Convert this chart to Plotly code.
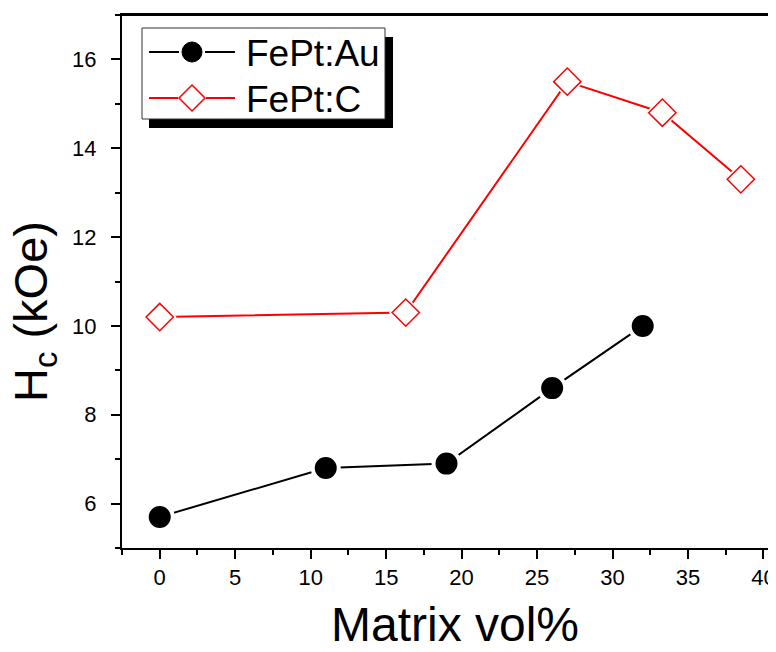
import plotly.graph_objects as go

# Data
au_x = [0, 11, 19, 26, 32]
au_y = [5.7, 6.8, 6.9, 8.6, 10.0]
c_x = [0, 16.3, 27, 33.3, 38.5]
c_y = [10.2, 10.3, 15.5, 14.8, 13.3]
series_names = ["FePt:Au", "FePt:C"]
x_title = "Matrix vol%"
y_title = "H<sub>c</sub> (kOe)"

FONT = "Liberation Sans, Arial, sans-serif"
# the page body adds an 8px offset; figure is sized to fill the rest of the window
OFF = 8
W, H = 776 - OFF, 652 - OFF
ML, MR, MT, MB = 122 - OFF, 0, 15 - OFF, 104
PW, PH = W - ML - MR, H - MT - MB


def px(xs):
    # screen pixel -> paper coordinate
    return (xs - OFF - ML) / PW


def py(ys):
    return (H - MB - (ys - OFF)) / PH


fig = go.Figure()

# FePt:Au - black filled circles with white gap ring
fig.add_trace(go.Scatter(
    x=au_x, y=au_y, mode="lines+markers", name=series_names[0],
    line=dict(color="black", width=2),
    marker=dict(symbol="circle", size=26, color="black",
                line=dict(color="white", width=4)),
))

# FePt:C - line, white underlay for gap, open red diamonds
fig.add_trace(go.Scatter(
    x=c_x, y=c_y, mode="lines", name=series_names[1],
    line=dict(color="#FF0000", width=2),
))
fig.add_trace(go.Scatter(
    x=c_x, y=c_y, mode="markers", showlegend=False, hoverinfo="skip",
    marker=dict(symbol="diamond", size=26, color="white", line=dict(width=0)),
))
fig.add_trace(go.Scatter(
    x=c_x, y=c_y, mode="markers", showlegend=False, name=series_names[1],
    marker=dict(symbol="diamond", size=21, color="white",
                line=dict(color="#FF0000", width=1.5)),
))

# top frame line + custom legend (Origin style box with drop shadow)
shapes = [
    dict(type="line", xref="paper", yref="paper", layer="above",
         x0=0, x1=1, y0=1, y1=1, line=dict(color="black", width=2)),
    dict(type="rect", xref="paper", yref="paper", layer="above",
         x0=px(149), x1=px(393), y0=py(37), y1=py(128),
         fillcolor="black", line=dict(width=0)),
    dict(type="rect", xref="paper", yref="paper", layer="above",
         x0=px(142), x1=px(385), y0=py(28), y1=py(119),
         fillcolor="white", line=dict(color="#333333", width=1)),
    # row 1 : black line + filled circle
    dict(type="line", xref="paper", yref="paper", layer="above",
         x0=px(149), x1=px(179), y0=py(52), y1=py(52),
         line=dict(color="black", width=2)),
    dict(type="line", xref="paper", yref="paper", layer="above",
         x0=px(205), x1=px(235), y0=py(52), y1=py(52),
         line=dict(color="black", width=2)),
    dict(type="circle", xref="paper", yref="paper", layer="above",
         x0=px(182), x1=px(202), y0=py(42), y1=py(62),
         fillcolor="black", line=dict(color="black", width=1)),
    # row 2 : red line + open diamond
    dict(type="line", xref="paper", yref="paper", layer="above",
         x0=px(149), x1=px(178), y0=py(98), y1=py(98),
         line=dict(color="#FF0000", width=2)),
    dict(type="line", xref="paper", yref="paper", layer="above",
         x0=px(206), x1=px(235), y0=py(98), y1=py(98),
         line=dict(color="#FF0000", width=2)),
    dict(type="path", xref="paper", yref="paper", layer="above",
         path="M {a},{b} L {c},{d} L {a},{e} L {f},{d} Z".format(
             a=px(192), b=py(85), c=px(205), d=py(98), e=py(111), f=px(179)),
         fillcolor="white", line=dict(color="#FF0000", width=1.5)),
]

annotations = [
    dict(text=series_names[0], xref="paper", yref="paper", x=px(244), y=py(53),
         xanchor="left", yanchor="middle", showarrow=False,
         font=dict(size=37, family=FONT, color="black")),
    dict(text=series_names[1], xref="paper", yref="paper", x=px(244), y=py(99),
         xanchor="left", yanchor="middle", showarrow=False,
         font=dict(size=37, family=FONT, color="black")),
    # axis titles
    dict(text=x_title, xref="paper", yref="paper", x=px(455), y=py(624),
         xanchor="center", yanchor="middle", showarrow=False,
         font=dict(size=48, family=FONT, color="black")),
    dict(text=y_title, xref="paper", yref="paper", x=px(34), y=py(312),
         xanchor="center", yanchor="middle", showarrow=False, textangle=-90,
         font=dict(size=47, family=FONT, color="black")),
]

fig.update_layout(
    width=W, height=H,
    margin=dict(l=ML, r=MR, t=MT, b=MB, autoexpand=False),
    paper_bgcolor="white", plot_bgcolor="white",
    font=dict(family=FONT, color="black"),
    showlegend=False,
    shapes=shapes,
    annotations=annotations,
    xaxis=dict(
        range=[-2.5, 40.83], showgrid=False, zeroline=False, automargin=False,
        showline=True, linecolor="black", linewidth=2, mirror=True,
        ticks="outside", tickcolor="black", tickwidth=1.5, ticklen=9,
        dtick=5, tick0=0,
        minor=dict(ticks="outside", ticklen=5, tickcolor="black", tickwidth=1.5, dtick=2.5, tick0=0),
        tickfont=dict(size=22),
    ),
    yaxis=dict(
        range=[5, 17], showgrid=False, zeroline=False, automargin=False,
        showline=True, linecolor="black", linewidth=2, mirror=False,
        ticks="outside", tickcolor="black", tickwidth=1.5, ticklen=9,
        dtick=2, tick0=0, ticklabelstandoff=10,
        minor=dict(ticks="outside", ticklen=5, tickcolor="black", tickwidth=1.5, dtick=1, tick0=0),
        tickfont=dict(size=22),
    ),
)

fig.write_html("out.html")
